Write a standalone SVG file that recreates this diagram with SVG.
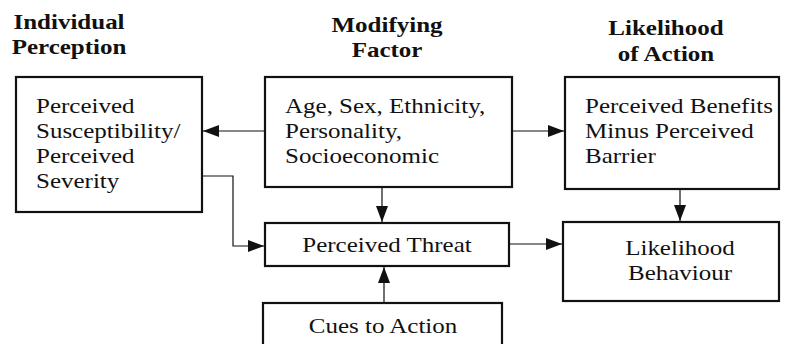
<svg xmlns="http://www.w3.org/2000/svg" width="787" height="344" viewBox="0 0 787 344">
<style>
.box{fill:#fff;stroke:#111;stroke-width:2.2}
.t{font-family:"Liberation Serif","Times New Roman",serif;font-size:21px;fill:#111}
.h{font-family:"Liberation Serif","Times New Roman",serif;font-size:21px;font-weight:bold;fill:#111}
.c{fill:none;stroke:#111;stroke-width:1.2}
</style>
<defs>
<marker id="ah" markerUnits="userSpaceOnUse" markerWidth="16" markerHeight="12" refX="16" refY="6" orient="auto">
<path d="M0,0 L16,6 L0,12 Z" fill="#111"/>
</marker>
</defs>
<rect width="787" height="344" fill="#fff"/>
<g id="headers">
<g transform="translate(69,0) scale(1.19,1)"><text class="h" text-anchor="middle" y="29">Individual</text><text class="h" text-anchor="middle" y="54">Perception</text></g>
<g transform="translate(387,0) scale(1.19,1)"><text class="h" text-anchor="middle" y="32">Modifying</text><text class="h" text-anchor="middle" y="57">Factor</text></g>
<g transform="translate(666,0) scale(1.19,1)"><text class="h" text-anchor="middle" y="35">Likelihood</text><text class="h" text-anchor="middle" y="61">of Action</text></g>
</g>
<g id="connectors">
<line class="c" x1="265" y1="131" x2="203" y2="131" marker-end="url(#ah)"/>
<line class="c" x1="512" y1="131" x2="564" y2="131" marker-end="url(#ah)"/>
<line class="c" x1="382" y1="187" x2="382" y2="222" marker-end="url(#ah)"/>
<polyline class="c" points="202,176 233,176 233,246 264,246" marker-end="url(#ah)"/>
<line class="c" x1="509" y1="244" x2="562" y2="244" marker-end="url(#ah)"/>
<line class="c" x1="680" y1="189" x2="680" y2="221" marker-end="url(#ah)"/>
<line class="c" x1="384" y1="303" x2="384" y2="267" marker-end="url(#ah)"/>
</g>
<g id="individual">
<rect class="box" x="16" y="77" width="186" height="135"/>
<g transform="translate(36,0) scale(1.19,1)"><text class="t" y="113">Perceived</text><text class="t" y="138">Susceptibility/</text><text class="t" y="163">Perceived</text><text class="t" y="188">Severity</text></g>
</g>
<g id="modifying">
<rect class="box" x="265" y="77" width="247" height="110"/>
<g transform="translate(285,0) scale(1.19,1)"><text class="t" y="113">Age, Sex, Ethnicity,</text><text class="t" y="138">Personality,</text><text class="t" y="163">Socioeconomic</text></g>
</g>
<g id="benefits">
<rect class="box" x="565" y="77" width="214" height="112"/>
<g transform="translate(585,0) scale(1.19,1)"><text class="t" y="113">Perceived Benefits</text><text class="t" y="138">Minus Perceived</text><text class="t" y="163">Barrier</text></g>
</g>
<g id="threat">
<rect class="box" x="265" y="223" width="244" height="43"/>
<g transform="translate(387,0) scale(1.19,1)"><text class="t" text-anchor="middle" y="252">Perceived Threat</text></g>
</g>
<g id="behaviour">
<rect class="box" x="563" y="222" width="216" height="79"/>
<g transform="translate(680,0) scale(1.19,1)"><text class="t" text-anchor="middle" y="255">Likelihood</text><text class="t" text-anchor="middle" y="280">Behaviour</text></g>
</g>
<g id="cues">
<rect class="box" x="263" y="303" width="239" height="50"/>
<g transform="translate(383,0) scale(1.19,1)"><text class="t" text-anchor="middle" y="333">Cues to Action</text></g>
</g>
</svg>
